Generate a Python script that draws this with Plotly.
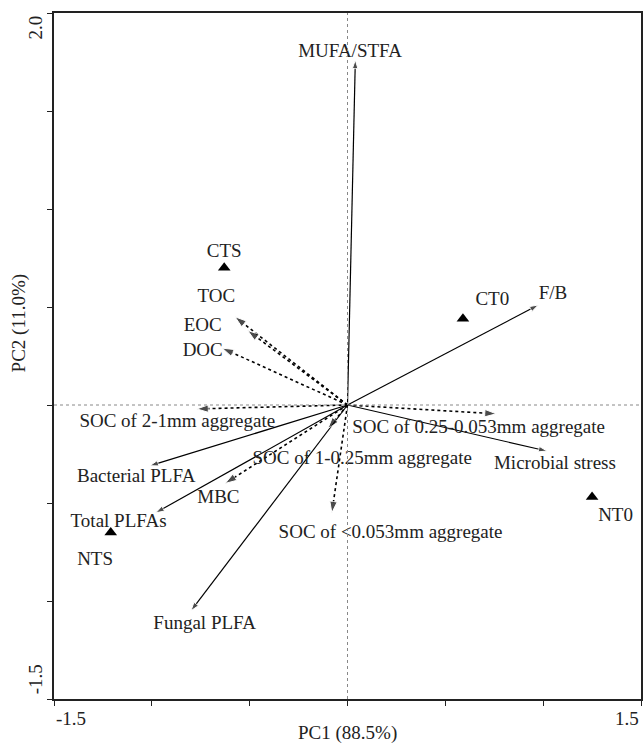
import plotly.graph_objects as go

# Loading vectors (solid arrows)
solid_names = ["MUFA/STFA", "F/B", "Microbial stress", "Bacterial PLFA", "Total PLFAs", "Fungal PLFA"]
solid_x = [0.04, 0.975, 1.02, -1.01, -0.98, -0.80]
solid_y = [1.76, 0.51, -0.235, -0.31, -0.55, -1.05]

# Loading vectors (dotted arrows)
dotted_names = ["TOC", "EOC", "DOC", "SOC of 2-1mm aggregate", "SOC of 0.25-0.053mm aggregate",
                "SOC of 1-0.25mm aggregate", "MBC", "SOC of <0.053mm aggregate"]
dotted_x = [-0.575, -0.51, -0.64, -0.77, 0.76, -0.10, -0.625, -0.08]
dotted_y = [0.45, 0.38, 0.29, -0.02, -0.045, -0.12, -0.40, -0.55]

# Sample scores (triangles)
sample_names = ["CTS", "CT0", "NT0", "NTS"]
sample_x = [-0.63, 0.59, 1.25, -1.21]
sample_y = [0.70, 0.44, -0.47, -0.65]

# Label positions
label_text = ["MUFA/STFA", "CTS", "TOC", "EOC", "DOC", "CT0", "F/B",
              "SOC of 2-1mm aggregate", "SOC of 0.25-0.053mm aggregate",
              "SOC of 1-0.25mm aggregate", "Microbial stress", "Bacterial PLFA",
              "MBC", "Total PLFAs", "NT0", "SOC of <0.053mm aggregate", "NTS", "Fungal PLFA"]
label_x = [0.013, -0.63, -0.67, -0.74, -0.74, 0.74, 1.05,
           -0.87, 0.67, 0.075, 1.06, -1.08, -0.66, -1.17, 1.37, 0.22, -1.29, -0.73]
label_y = [1.80, 0.78, 0.55, 0.40, 0.275, 0.535, 0.565,
           -0.09, -0.12, -0.275, -0.30, -0.37, -0.475, -0.60, -0.57, -0.653, -0.79, -1.12]

# Axis tick labels shown (ends only)
x_tick_labels = ["-1.5", "1.5"]
y_tick_labels = ["2.0", "-1.5"]

FONT = "Liberation Serif"
FS = 19
TXT = "#222"
fig = go.Figure()

# reference lines
fig.add_hline(y=0, line=dict(color="#888", width=1, dash="dot"))
fig.add_vline(x=0, line=dict(color="#888", width=1, dash="dot"))

for n, x, y in zip(solid_names, solid_x, solid_y):
    fig.add_trace(go.Scatter(x=[0, x], y=[0, y], mode="lines+markers",
                             line=dict(color="black", width=1.2),
                             marker=dict(symbol=["circle", "arrow"], size=[0, 9],
                                         angleref="previous", color="black"),
                             showlegend=False, hoverinfo="skip"))

for n, x, y in zip(dotted_names, dotted_x, dotted_y):
    fig.add_trace(go.Scatter(x=[0, x], y=[0, y], mode="lines+markers",
                             line=dict(color="black", width=1.6, dash="dot"),
                             marker=dict(symbol=["circle", "arrow"], size=[0, 12],
                                         angleref="previous", color="black"),
                             showlegend=False, hoverinfo="skip"))

fig.add_trace(go.Scatter(x=sample_x, y=sample_y, mode="markers",
                         marker=dict(symbol="triangle-up", size=11, color="black"),
                         showlegend=False, hoverinfo="skip"))

fig.add_trace(go.Scatter(x=label_x, y=label_y, mode="text", text=label_text,
                         textfont=dict(family=FONT, size=FS, color=TXT),
                         showlegend=False, hoverinfo="skip"))

font = dict(family=FONT, size=FS, color=TXT)
fig.add_annotation(text="PC2 (11.0%)", xref="paper", yref="paper", x=-0.059, y=0.548,
                   textangle=-90, showarrow=False, font=font,
                   xanchor="center", yanchor="middle")
fig.add_annotation(text="PC1 (88.5%)", xref="paper", yref="paper", x=0.5, y=-0.0496,
                   showarrow=False, font=font, xanchor="center", yanchor="middle")
# end tick labels, aligned inward as in the reference
fig.add_annotation(text=x_tick_labels[0], xref="paper", yref="paper", x=0, y=-0.028,
                   showarrow=False, font=font, xanchor="left", yanchor="middle")
fig.add_annotation(text=x_tick_labels[1], xref="paper", yref="paper", x=1, y=-0.028,
                   showarrow=False, font=font, xanchor="right", yanchor="middle")
fig.add_annotation(text=y_tick_labels[0], xref="paper", yref="paper", x=-0.032, y=0.979,
                   textangle=-90, showarrow=False, font=font, xanchor="center", yanchor="middle")
fig.add_annotation(text=y_tick_labels[1], xref="paper", yref="paper", x=-0.032, y=0.029,
                   textangle=-90, showarrow=False, font=font, xanchor="center", yanchor="middle")

axis_common = dict(showline=True, linecolor="#222", linewidth=1.5, mirror=True,
                   showgrid=False, zeroline=False, ticks="outside", ticklen=5,
                   tickcolor="#222", tickwidth=1.2, automargin=False, showticklabels=False)

fig.update_xaxes(range=[-1.5, 1.5], tickvals=[-1.5, -1.0, -0.5, 0, 0.5, 1.0, 1.5], **axis_common)
fig.update_yaxes(range=[-1.5, 2.0], tickvals=[-1.5, -1.0, -0.5, 0, 0.5, 1.0, 1.5, 2.0], **axis_common)

fig.update_layout(width=643, height=745, margin=dict(l=54, r=2, t=13, b=46),
                  plot_bgcolor="white", paper_bgcolor="white", font=dict(family=FONT))

fig.write_html("out.html", config={"displayModeBar": False},
               post_script="document.body.style.margin='0';document.body.style.overflow='hidden';")
